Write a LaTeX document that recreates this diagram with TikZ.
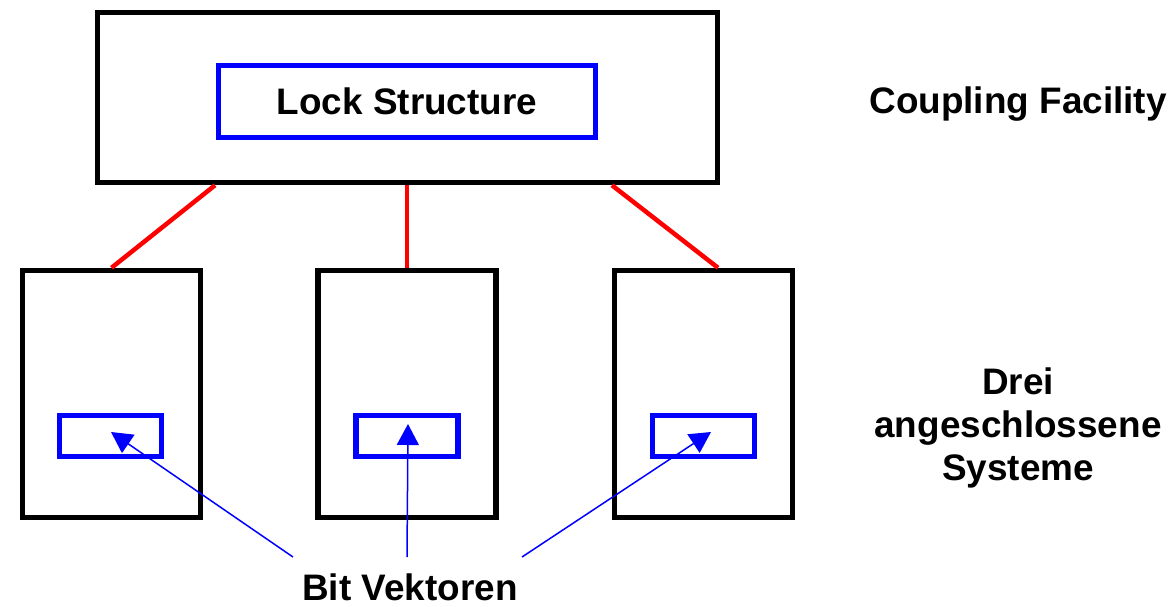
\documentclass[tikz,border=0pt]{standalone}
\usepackage{fontspec}
\setmainfont{Liberation Sans}
\usetikzlibrary{positioning, arrows.meta}
\tikzset{
  frame/.style={draw=black, line width=0.11cm, inner sep=0pt},
  cfbox/.style={frame, minimum width=12.4cm, minimum height=3.4cm},
  sysbox/.style={frame, minimum width=3.56cm, minimum height=4.94cm},
  lockbox/.style={frame, draw=blue, minimum width=7.54cm, minimum height=1.44cm, font=\bfseries\fontsize{21}{24.4}\selectfont},
  bitbox/.style={frame, draw=blue, minimum width=2.04cm, minimum height=0.82cm},
  txt/.style={align=center, inner sep=0pt, font=\bfseries\fontsize{21}{24.4}\selectfont},
  link/.style={red, line width=0.09cm},
  ptr/.style={-{Triangle[length=0.42cm, width=0.44cm]}, blue, line width=0.03cm},
}
\begin{document}
\begin{tikzpicture}[x=0.02cm, y=-0.02cm]
\useasboundingbox (0,0) rectangle (1176,606);
% coupling facility
\node[cfbox] (cf) at (407.5,97.5) {};
\node[lockbox] (lock) at (407,101.5) {Lock Structure};
\node[txt, anchor=base] (cftxt) at (1018,113) {Coupling Facility};
% attached systems
\node[sysbox] (s1) at (111.5,394) {};
\node[sysbox] (s2) at (407,394) {};
\node[sysbox] (s3) at (703.5,394) {};
\node[bitbox] (b1) at (110.5,436) {};
\node[bitbox] (b2) at (407,436) {};
\node[bitbox] (b3) at (703.5,436) {};
\node[txt] (systxt) at (1018,428) {Drei\\angeschlossene\\Systeme};
% links
\draw[link] ([xshift=-3.85cm]cf.south) -- (s1.north);
\draw[link] (cf.south -| s2.north) -- (s2.north);
\draw[link] ([xshift=4.09cm]cf.south) -- ([xshift=0.29cm]s3.north);
% bit vectors
\node[txt, anchor=base] (bv) at (410,600) {Bit Vektoren};
\coordinate (t1) at (293,557);
\coordinate (t2) at (407,557);
\coordinate (t3) at (522,557);
\draw[ptr] (t1) -- ([shift={(0.5,-4)}]b1.center);
\draw[ptr] (t2) -- ([shift={(1,-12)}]b2.center);
\draw[ptr] (t3) -- ([shift={(7.5,-4)}]b3.center);
\end{tikzpicture}
\end{document}
